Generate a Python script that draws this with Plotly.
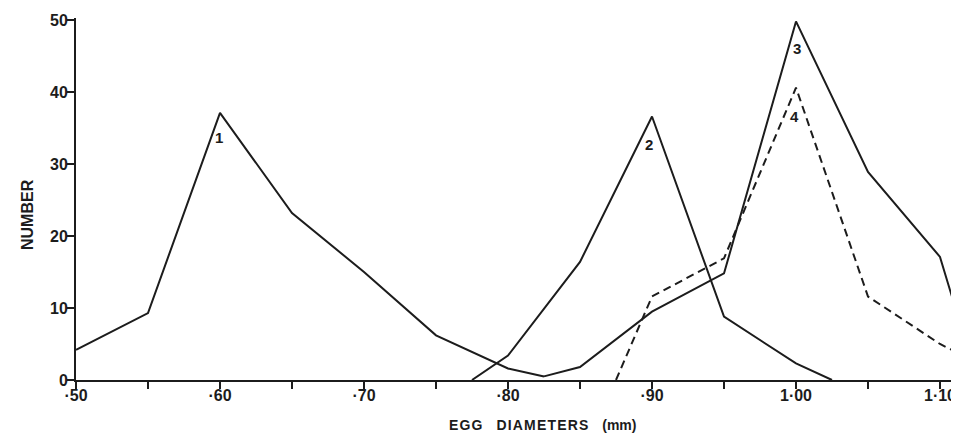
import plotly.graph_objects as go

# ---- data ----
c1_x = [0.50, 0.55, 0.60, 0.65, 0.70, 0.75, 0.80, 0.825]
c1_y = [4.2, 9.3, 37.1, 23.2, 15.0, 6.2, 1.6, 0.5]

c2_x = [0.775, 0.80, 0.85, 0.90, 0.95, 1.00, 1.025]
c2_y = [0.0, 3.4, 16.4, 36.6, 8.8, 2.3, 0.0]

c3_x = [0.825, 0.85, 0.90, 0.95, 1.00, 1.05, 1.10, 1.125]
c3_y = [0.5, 1.8, 9.5, 14.8, 49.8, 28.9, 17.1, 0.5]

c4_x = [0.875, 0.90, 0.95, 1.00, 1.05, 1.10, 1.15]
c4_y = [0.0, 11.6, 16.9, 40.6, 11.6, 5.0, 0.0]

x_tickvals = [0.50, 0.55, 0.60, 0.65, 0.70, 0.75, 0.80, 0.85, 0.90, 0.95, 1.00, 1.05, 1.10]
x_ticktext = ["·50", "", "·60", "", "·70", "", "·80", "", "·90", "", "1·00", "", "1·10"]
y_tickvals = [0, 10, 20, 30, 40, 50]

curve_labels = ["1", "2", "3", "4"]

FONT = "Liberation Sans, Arial, sans-serif"
INK = "#1c1c1c"

# page body adds an 8px offset; figure is sized so it ends at the window edge
W, H = 951, 425
ML, MT, MB = 68, 10, 53
plot_w = W - ML
plot_h = H - MT - MB

fig = go.Figure()
solid = dict(color=INK, width=2)
fig.add_trace(go.Scatter(x=c1_x, y=c1_y, mode="lines", line=solid, showlegend=False))
fig.add_trace(go.Scatter(x=c2_x, y=c2_y, mode="lines", line=solid, showlegend=False))
fig.add_trace(go.Scatter(x=c3_x, y=c3_y, mode="lines", line=solid, showlegend=False))
fig.add_trace(go.Scatter(x=c4_x, y=c4_y, mode="lines",
                         line=dict(color=INK, width=2, dash="8px,5px"), showlegend=False))

# curve number labels just under each peak
peaks = []
for xs, ys in [(c1_x, c1_y), (c2_x, c2_y), (c3_x, c3_y), (c4_x, c4_y)]:
    i = max(range(len(ys)), key=lambda k: ys[k])
    peaks.append((xs[i], ys[i]))
shifts = [(-1, -25), (-3, -28), (1, -27), (-2, -29)]
for lab, (px, py), (dx, dy) in zip(curve_labels, peaks, shifts):
    fig.add_annotation(x=px, y=py, text=lab, showarrow=False, xshift=dx, yshift=dy,
                       font=dict(family=FONT, size=15, color=INK, weight="bold"))

# axis titles (letter spaced)
HS = "\u200a"
EM = "\u2003"
fig.add_annotation(xref="paper", yref="paper", x=0.5, y=0, xanchor="center", yanchor="middle",
                   xshift=534 - (ML + plot_w / 2), yshift=-45,
                   text=HS.join("EGG") + EM + HS.join("DIAMETERS") + EM + "(mm)",
                   showarrow=False, font=dict(family=FONT, size=14, color=INK, weight="bold"))
fig.add_annotation(xref="paper", yref="paper", x=0, y=0.5, xanchor="center", yanchor="middle",
                   xshift=19 - ML, yshift=(MT + plot_h / 2) - 207,
                   text="NUMBER", textangle=-90,
                   showarrow=False, font=dict(family=FONT, size=16, color=INK, weight="bold"))

fig.update_layout(
    width=W, height=H,
    margin=dict(l=ML, r=0, t=MT, b=MB, pad=0),
    paper_bgcolor="white", plot_bgcolor="white",
    font=dict(family=FONT, color=INK),
)
fig.update_xaxes(
    range=[0.50, 0.50 + plot_w / 1440.0],
    showgrid=False, zeroline=False,
    showline=True, linecolor=INK, linewidth=2,
    ticks="outside", ticklen=7, tickwidth=2, tickcolor=INK,
    tickvals=x_tickvals, ticktext=x_ticktext, ticklabelstandoff=-7,
    tickfont=dict(family=FONT, size=16, color=INK, weight="bold"),
)
fig.update_yaxes(
    range=[0, plot_h / 7.2],
    showgrid=False, zeroline=False,
    showline=True, linecolor=INK, linewidth=2,
    ticks="outside", ticklen=7, tickwidth=2, tickcolor=INK,
    tickvals=y_tickvals, ticklabelstandoff=-4,
    tickfont=dict(family=FONT, size=16, color=INK, weight="bold"),
)

fig.write_html("out.html")
